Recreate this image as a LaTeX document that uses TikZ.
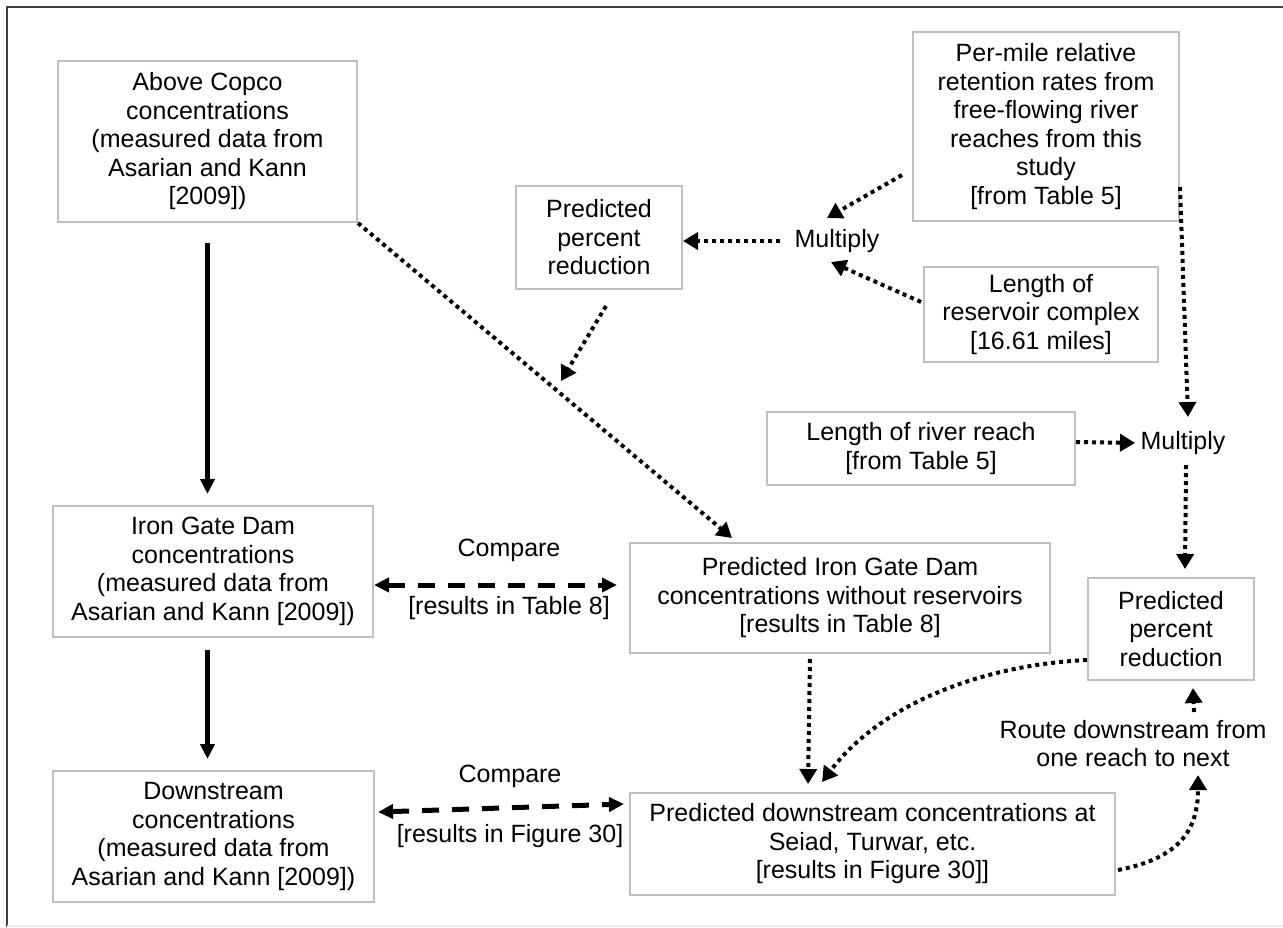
\documentclass[tikz,border=0pt]{standalone}
\usepackage{fontspec}
\setmainfont{Liberation Sans}
\usetikzlibrary{arrows.meta,calc}
\definecolor{boxgray}{RGB}{192,192,192}
\definecolor{framedark}{RGB}{64,64,64}
\definecolor{framelight}{RGB}{230,230,230}
\begin{document}
\begin{tikzpicture}[x=0.5pt,y=-0.5pt,
  every node/.style={font=\fontsize{12.5}{14.25}\selectfont},
  box/.style={draw=boxgray, line width=1pt, align=center, inner sep=0pt},
  lbl/.style={align=center, inner sep=0pt},
  dotarrow/.style={line width=2pt, dash pattern=on 2pt off 2pt, -{Triangle[length=7.5pt,width=8.5pt]}},
  solidarrow/.style={line width=2.75pt, -{Triangle[length=7.5pt,width=7pt]}},
  cmparrow/.style={line width=2.5pt, dash pattern=on 8.5pt off 6.5pt, {Triangle[length=7.5pt,width=7pt]}-{Triangle[length=7.5pt,width=7pt]}},
]
\useasboundingbox (0,0) rectangle (1283,927);
\fill[white] (0,0) rectangle (1283,927);
\draw[framedark, line width=1pt] (1283,7) -- (7,7) -- (7,927);
\draw[framelight, line width=1pt] (7,926) -- (1283,926);

% boxes
\node[box, minimum width=149.5pt, minimum height=80.5pt] (copco) at (207.5,141.5)
  {Above Copco\\concentrations\\(measured data from\\Asarian and Kann\\{[}2009{]})};
\node[box, minimum width=133pt, minimum height=94.5pt] (permile) at (1046,126.5)
  {Per-mile relative\\retention rates from\\free-flowing river\\reaches from this\\study\\{[}from Table 5{]}};
\node[box, minimum width=83pt, minimum height=51.5pt] (pr1) at (599,237.5)
  {Predicted\\percent\\reduction};
\node[lbl] (mult1) at (837,241) {Multiply};
\node[box, minimum width=117pt, minimum height=47.5pt] (reslen) at (1041,314.5)
  {Length of\\reservoir complex\\{[}16.61 miles{]}};
\node[box, minimum width=154pt, minimum height=36.5pt] (riverlen) at (921,448.5)
  {Length of river reach\\{[}from Table 5{]}};
\node[lbl] (mult2) at (1183,443) {Multiply};
\node[box, minimum width=160pt, minimum height=65.5pt] (irongate) at (213,571.5)
  {Iron Gate Dam\\concentrations\\(measured data from\\Asarian and Kann {[}2009{]})};
\node[box, minimum width=210pt, minimum height=55pt] (prig) at (840,598)
  {Predicted Iron Gate Dam\\concentrations without reservoirs\\{[}results in Table 8{]}};
\node[box, minimum width=83pt, minimum height=51pt] (pr2) at (1171,629)
  {Predicted\\percent\\reduction};
\node[box, minimum width=160.5pt, minimum height=65.5pt] (down) at (213.5,836.5)
  {Downstream\\concentrations\\(measured data from\\Asarian and Kann {[}2009{]})};
\node[box, minimum width=242.5pt, minimum height=51pt] (prdown) at (872.5,844)
  {Predicted downstream concentrations at\\Seiad, Turwar, etc.\\{[}results in Figure 30{]}{]}};
\node[lbl] (route) at (1133,743.5) {Route downstream from\\one reach to next};
\node[lbl] (cmp1a) at (509,550) {Compare};
\node[lbl] (cmp1b) at (509,608) {{[}results in Table 8{]}};
\node[lbl] (cmp2a) at (510,776) {Compare};
\node[lbl] (cmp2b) at (510,836) {{[}results in Figure 30{]}};

% solid arrows
\draw[solidarrow, shorten <=10pt, shorten >=5.5pt] (copco.south) -- (copco.south |- irongate.north);
\draw[solidarrow, shorten <=6pt, shorten >=5.5pt] (copco.south |- irongate.south) -- (copco.south |- down.north);

% compare arrows
\coordinate (c1l) at ([yshift=-6.75pt]irongate.east);
\draw[cmparrow, shorten >=6pt] (c1l) -- (c1l -| prig.west);
\draw[cmparrow] ([xshift=1.5pt,yshift=12.25pt]down.east) -- ([xshift=-2.5pt,yshift=20pt]prdown.west);

% dotted arrows
\coordinate (pr1end) at (561,381);
\draw[dotarrow] (copco.south east) -- ([xshift=51.5pt,yshift=2pt]prig.north west);
\draw[dotarrow] ([xshift=3.5pt,yshift=-8pt]pr1.south) -- (pr1end);
\draw[dotarrow] ([xshift=-28.5pt]mult1.center) -- (pr1.east |- mult1.center);
\draw[dotarrow] ([yshift=-24.25pt,xshift=-5pt]permile.west) -- ([xshift=-5pt,yshift=11.5pt]mult1.center);
\draw[dotarrow] ([xshift=-1pt,yshift=-18pt]reslen.north west) -- ([xshift=-3pt,yshift=-10.5pt]mult1.center);
\draw[dotarrow] ([yshift=-30.25pt]permile.east) -- ([xshift=2.5pt,yshift=13pt]mult2.center);
\draw[dotarrow] ([yshift=3.25pt]riverlen.east) -- ([xshift=-24pt]mult2.center);
\draw[dotarrow] ([xshift=1.5pt,yshift=-11pt]mult2.center) -- ([xshift=7pt,yshift=4pt]pr2.north);
\draw[dotarrow] ([yshift=-15.5pt]pr2.west) .. controls (980,665) and (880,705) .. ([xshift=-25.25pt,yshift=5pt]prdown.north);
\draw[dotarrow] ([xshift=-15pt,yshift=-2.5pt]prig.south) -- ([xshift=-32.25pt,yshift=4pt]prdown.north);
\draw[dotarrow] ([xshift=1pt,yshift=-13pt]prdown.east) .. controls (1180,858) and (1198,830) .. ([xshift=32.5pt,yshift=-15.75pt]route.center);
\draw[dotarrow] ([xshift=30.5pt,yshift=15.75pt]route.center) -- ([xshift=11pt,yshift=-3.5pt]pr2.south);
\end{tikzpicture}
\end{document}
